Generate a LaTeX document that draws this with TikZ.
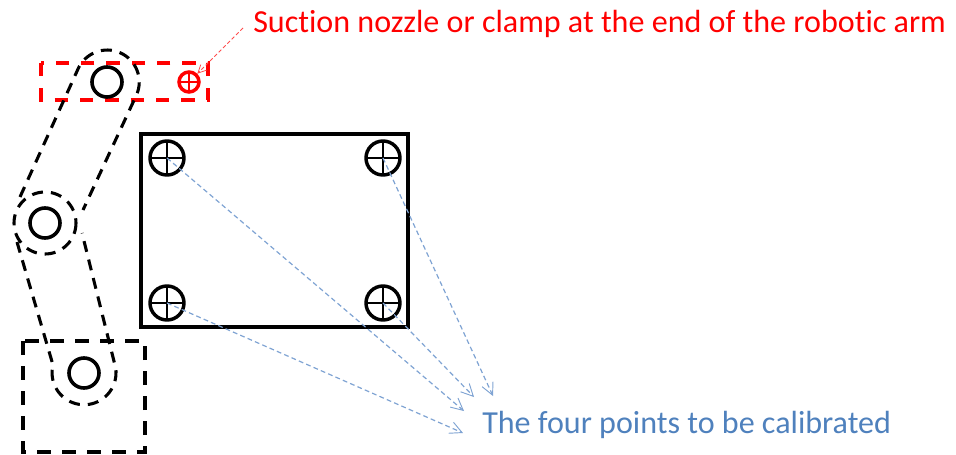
\documentclass[tikz,border=0pt]{standalone}
\usepackage{fontspec}
\setmainfont[RawFeature={-liga;-clig}]{Carlito}
\usetikzlibrary{arrows.meta}
\definecolor{bluetxt}{HTML}{4F81BD}
\definecolor{blueln}{HTML}{7FA3D3}
\tikzset{
  x=0.75pt,y=-0.75pt,
  joint/.style={circle,draw=black,line width=2.7pt,minimum size=22.5pt,inner sep=0pt},
  crossmark/.style={circle,draw=#1,inner sep=0pt,path picture={
    \draw[#1,line width=2pt] (path picture bounding box.north) -- (path picture bounding box.south)
      (path picture bounding box.west) -- (path picture bounding box.east);}},
  bigcross/.style={crossmark=black,line width=2.6pt,minimum size=25.5pt},
  redcross/.style={crossmark=red,line width=2.6pt,minimum size=15pt},
  blackdash/.style={draw=black,line width=2.6pt,dash pattern=on 10.5pt off 8.25pt},
  linkdash/.style={draw=black,line width=2.3pt,dash pattern=on 8.25pt off 6pt},
  reddash/.style={draw=red,line width=2.6pt,dash pattern=on 10pt off 9pt},
  bluearrow/.style={draw=blueln,line width=0.9pt,dash pattern=on 3.6pt off 2.4pt,-{Straight Barb[length=9pt,width=9pt,line width=0.7pt]}},
  redleader/.style={draw=red!70,line width=0.7pt,dash pattern=on 2.8pt off 1.8pt,-{Straight Barb[length=6pt,width=6pt,line width=0.6pt]}},
  redlabel/.style={text=red,font=\fontsize{24.05pt}{26pt}\selectfont,anchor=base west,inner sep=0pt},
  bluelabel/.style={text=bluetxt,font=\fontsize{24.05pt}{26pt}\selectfont,anchor=base west,inner sep=0pt}
}
\begin{document}
\begin{tikzpicture}
\useasboundingbox (0,0) rectangle (956,454);
% base and holder frames
\draw[blackdash] (23,341) rectangle (145,452);
\draw[reddash] (41,63) rectangle (208,100);
\draw[draw=black,line width=2.7pt] (141,134) rectangle (408,327);
% arm links
\draw[linkdash] (20,197) -- (78,69) arc[start angle=204,end angle=384,radius=32] -- (83,210);
\draw[linkdash] (45,223) circle[radius=31];
\draw[linkdash] (17,242) -- (53,365) arc[start angle=194,end angle=-20,radius=32] -- (82,233);
% joints
\node[joint] (j1) at (107,82) {};
\node[joint] (j2) at (45,223) {};
\node[joint] (j3) at (84,373) {};
% calibration points
\node[bigcross] (p1) at (167,158) {};
\node[bigcross] (p2) at (383,158) {};
\node[bigcross] (p3) at (167,303) {};
\node[bigcross] (p4) at (383,303) {};
\node[redcross] (tool) at (189,82) {};
% labels
\node[redlabel] (lbl) at (253,32) {Suction nozzle or clamp at the end of the robotic arm};
\node[bluelabel] (cal) at (482,433) {The four points to be calibrated};
% leaders
\coordinate (lstart) at (243,28);
\coordinate (a1) at (464,411);
\coordinate (a2) at (493,396);
\coordinate (a3) at (463,433);
\coordinate (a4) at (474,397);
\draw[redleader] (lstart) -- (tool);
\draw[bluearrow] (p1.center) -- (a1);
\draw[bluearrow] (p2.center) -- (a2);
\draw[bluearrow] (p3.center) -- (a3);
\draw[bluearrow] (p4.center) -- (a4);
\end{tikzpicture}
\end{document}
